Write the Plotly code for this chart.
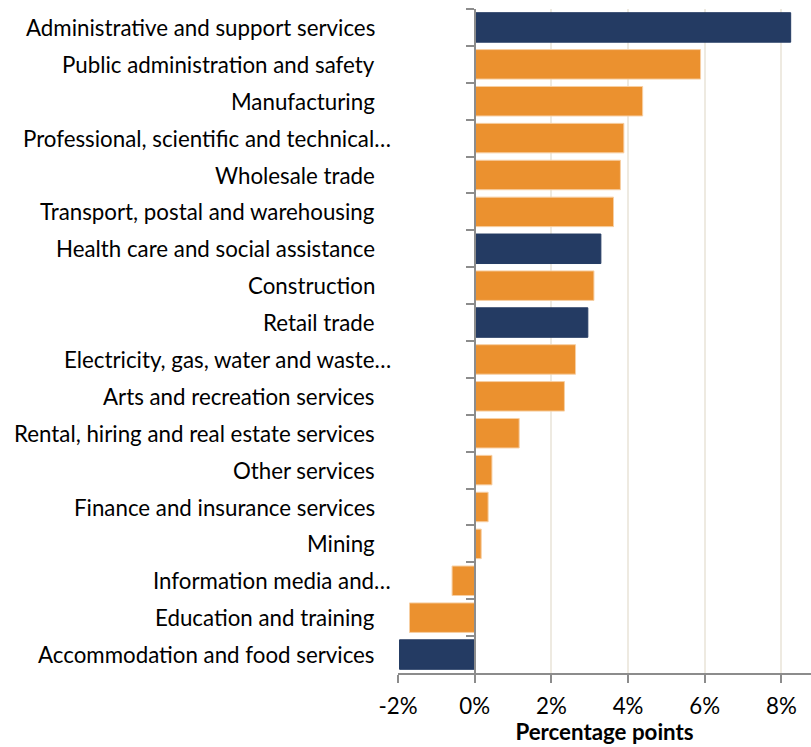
import plotly.graph_objects as go

# Industries, top to bottom, and their change in share (percentage points)
industries = [
    "Administrative and support services",
    "Public administration and safety",
    "Manufacturing",
    "Professional, scientific and technical…",
    "Wholesale trade",
    "Transport, postal and warehousing",
    "Health care and social assistance",
    "Construction",
    "Retail trade",
    "Electricity, gas, water and waste…",
    "Arts and recreation services",
    "Rental, hiring and real estate services",
    "Other services",
    "Finance and insurance services",
    "Mining",
    "Information media and…",
    "Education and training",
    "Accommodation and food services",
]
change_pp = [8.24, 5.89, 4.38, 3.89, 3.80, 3.62, 3.29, 3.11, 2.95,
             2.63, 2.34, 1.16, 0.45, 0.35, 0.17, -0.59, -1.70, -1.96]
highlighted = [True, False, False, False, False, False, True, False, True,
               False, False, False, False, False, False, False, False, True]

x_tick_values = [-2, 0, 2, 4, 6, 8]
x_tick_text = [f"{v}%" for v in x_tick_values]
x_range = [-2, 8.77]

NAVY = "#243B63"
ORANGE = "#EB912F"
ORANGE_EDGE = "#F7CFA3"
AXIS_GREY = "#8C8C8C"
GRID = "#EEEAE1"
FONT = "Lato"
SIZE = 22.3

bar_colors = [NAVY if h else ORANGE for h in highlighted]
edge_colors = [NAVY if h else ORANGE_EDGE for h in highlighted]

fig = go.Figure(
    go.Bar(
        x=change_pp,
        y=industries,
        orientation="h",
        marker=dict(color=bar_colors, line=dict(color=edge_colors, width=1)),
        width=0.8,
        hoverinfo="x+y",
    )
)

# Category labels drawn as right-aligned text to the left of the plot area
for name in industries:
    truncated = name.endswith("…")
    fig.add_annotation(
        x=x_range[0], y=name, xref="x", yref="y",
        text=name, showarrow=False, xanchor="right", yanchor="middle",
        xshift=-5 if truncated else -21,
        font=dict(family=FONT, size=SIZE, color="#000000"),
    )

# y-axis sits on the zero line, so place it at 0 within the x range
zero_pos = (0 - x_range[0]) / (x_range[1] - x_range[0])

fig.update_layout(
    width=811, height=747,
    margin=dict(l=398, r=0, t=9, b=74),
    paper_bgcolor="white", plot_bgcolor="white",
    showlegend=False,
    font=dict(family=FONT, size=SIZE, color="#000000"),
    xaxis=dict(
        range=x_range,
        tickvals=x_tick_values, ticktext=x_tick_text,
        showgrid=True, gridcolor=GRID, gridwidth=2,
        zeroline=False,
        showline=True, linecolor=AXIS_GREY, linewidth=1.5,
        ticks="outside", ticklen=8, tickwidth=1.5, tickcolor=AXIS_GREY,
        ticklabelstandoff=4,
        tickfont=dict(family=FONT, size=SIZE, color="#000000"),
        title=dict(text="<b>Percentage points</b>", standoff=4,
                   font=dict(family=FONT, size=SIZE, color="#000000")),
        fixedrange=True,
    ),
    yaxis=dict(
        autorange="reversed",
        anchor="free", position=zero_pos,
        showline=True, linecolor=AXIS_GREY, linewidth=2,
        tickson="boundaries", ticks="outside", ticklen=8,
        tickwidth=1.5, tickcolor=AXIS_GREY,
        showticklabels=False, showgrid=False, zeroline=False,
        fixedrange=True,
    ),
)

fig.write_html("out.html")
